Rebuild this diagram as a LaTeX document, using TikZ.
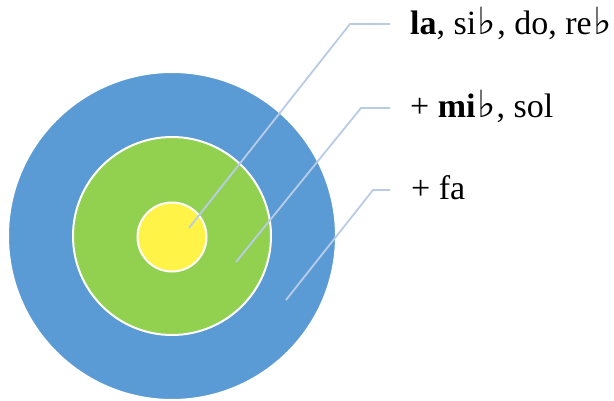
\documentclass[tikz,border=0pt]{standalone}
\usepackage{fontspec}
\setmainfont{Liberation Serif}
\newfontfamily\flatfont{DejaVu Serif}
\usepackage{xcolor}
\usetikzlibrary{positioning}
\definecolor{ringblue}{RGB}{91,155,213}
\definecolor{ringgreen}{RGB}{146,208,80}
\definecolor{ringyellow}{RGB}{255,243,72}
\definecolor{leadblue}{RGB}{184,204,232}
\newcommand{\fl}{\kern1.5pt\scalebox{1.15}[1.1]{\flatfont\mdseries ♭}\kern1pt}
\begin{document}
\begin{tikzpicture}[x=1pt, y=-1pt,
    ring/.style={circle, draw=white, line width=2pt, inner sep=0pt},
    lead/.style={draw=leadblue, line width=1.8pt},
    lbl/.style={anchor=base west, inner sep=0pt, font=\fontsize{34}{40}\selectfont}]
    \useasboundingbox (0,0) rectangle (614,401);
    % three rings
    \node[ring, fill=ringblue, minimum size=328pt] (outer) at (172,236) {};
    \node[ring, fill=ringgreen, minimum size=198pt] (middle) at (172,236) {};
    \node[ring, fill=ringyellow, minimum size=69pt] (inner) at (172,237) {};
    % labels
    \node[lbl] (l1) at (410,35) {\textbf{la}, si\fl, do, re\fl};
    \node[lbl] (l2) at (410,118) {+ \textbf{mi}\fl, sol};
    \node[lbl] (l3) at (411,200) {+ fa};
    % leader lines
    \coordinate (a1) at (189,228); \coordinate (k1) at (350,24); \coordinate (e1) at (390,24);
    \coordinate (a2) at (236,262); \coordinate (k2) at (361,108); \coordinate (e2) at (390,108);
    \coordinate (a3) at (286,300); \coordinate (k3) at (373,190); \coordinate (e3) at (390,190);
    \draw[lead] (a1) -- (k1) -- (e1);
    \draw[lead] (a2) -- (k2) -- (e2);
    \draw[lead] (a3) -- (k3) -- (e3);
\end{tikzpicture}
\end{document}
